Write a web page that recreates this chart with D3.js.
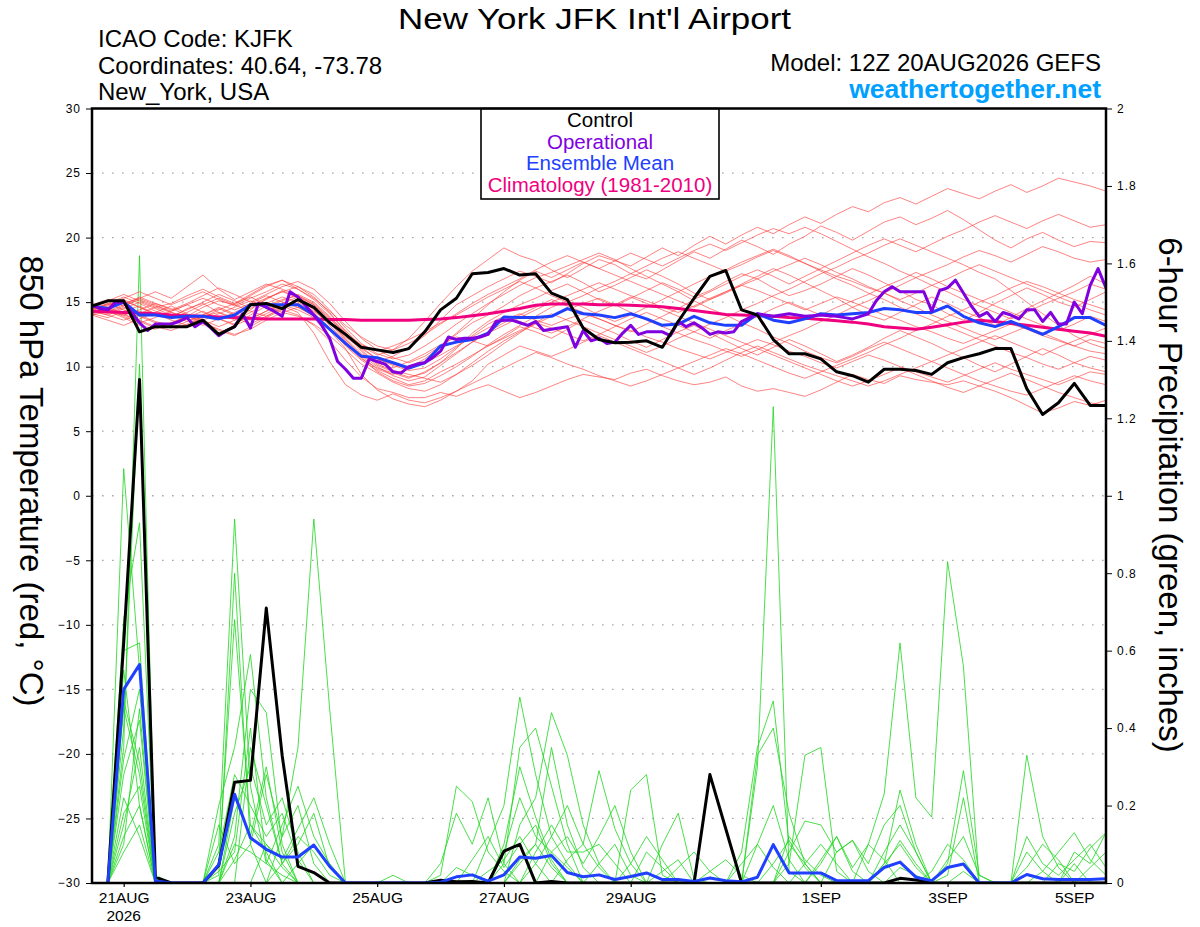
<!DOCTYPE html>
<html>
<head>
<meta charset="utf-8">
<script src="https://cdn.jsdelivr.net/npm/d3@7"></script>
<style>
html,body{margin:0;padding:0;background:#fff;}
svg{display:block;font-family:"Liberation Sans",Arial,Helvetica,sans-serif;}
</style>
</head>
<body>
<svg id="chart" width="1200" height="927"></svg>
<script>
// ---------------- DATA ----------------
const runStartUTC = "2026-08-20T12:00:00Z";   // first valid time (6-hourly steps)
const dateTickDays = ["2026-08-21","2026-08-23","2026-08-25","2026-08-27","2026-08-29","2026-09-01","2026-09-03","2026-09-05"];
const dateTickLabels = ["21AUG","23AUG","25AUG","27AUG","29AUG","1SEP","3SEP","5SEP"];
const yearLabel = "2026";
const tempTickValues = [-30,-25,-20,-15,-10,-5,0,5,10,15,20,25,30];
const precipTickValues = [0,0.2,0.4,0.6,0.8,1,1.2,1.4,1.6,1.8,2];
const legendLabels = ["Control","Operational","Ensemble Mean","Climatology (1981-2010)"];

// 850 hPa temperature (C), 6-hourly, 65 steps
const controlTemp = [14.7, 15.1,15.1,12.7,13.1, 13.1,13.1,13.6,12.5, 13.1,14.8,14.9,14.5, 15.2,14.6,13.4,12.5,
  11.5,11.3,11.1,11.4, 12.7,14.4,15.3,17.2, 17.3,17.6,17.1,17.2, 15.7,15.2,13.0,12.1,
  11.85,11.9,12.0,11.5, 13.5,15.3,17.0,17.45, 14.4,14.0,12.1,11.0, 11.0,10.6,9.6,9.3,
  8.8,9.8,9.8,9.7, 9.4,10.3,10.7,11.0, 11.4,11.4,8.3,6.3, 7.2,8.7,7.0,7.0];
const meanTemp = [14.7, 14.5,15.0,14.0,14.0, 13.8,13.9,13.9,13.7, 14.0,14.8,14.8,14.8, 14.8,14.0,12.9,11.8,
  10.8,10.7,10.3,9.9, 10.3,11.6,11.9,12.1, 12.6,13.85,13.8,13.8, 13.9,14.5,14.1,14.0,
  13.8,14.1,13.7,13.2, 13.3,13.9,13.4,13.2, 13.2,14.1,13.6,13.4, 13.7,14.1,14.0,14.1,
  14.2,14.5,14.4,14.2, 14.2,14.7,13.9,13.4, 13.1,13.5,13.0,12.5, 13.1,13.8,13.8,13.2];
const climoTemp = [14.3, 14.25,14.2,14.15,14.1, 14.0,13.95,13.9,13.85, 13.8,13.75,13.7,13.7, 13.7,13.7,13.65,13.65,
  13.6,13.6,13.6,13.6, 13.65,13.7,13.8,13.95, 14.1,14.3,14.5,14.75, 14.85,14.85,14.85,14.8,
  14.8,14.75,14.7,14.65, 14.5,14.35,14.2,14.05, 14.0,13.95,13.9,13.8, 13.75,13.65,13.55,13.45,
  13.3,13.1,13.0,12.9, 13.05,13.25,13.45,13.6, 13.5,13.35,13.2,13.05, 12.9,12.75,12.6,12.35];
// operational run is 3-hourly (129 values)
const operationalTemp = [14.8,14.5, 14.4,15.0, 15.0,14.2, 13.4,12.8, 13.3,13.3, 13.3,13.5, 13.8,13.1, 13.5,13.0,
  12.4,12.8, 13.1,14.1, 13.0,14.9, 14.6,14.3, 13.9,15.8, 15.4,14.7, 14.0,13.2, 12.2,10.4,
  9.8,9.1, 9.1,10.6, 10.4,10.2, 9.6,9.5, 10.0,10.2, 10.3,10.7, 11.2,12.3, 12.1,12.2,
  12.2,12.3, 12.5,13.5, 13.6,13.6, 13.4,13.2, 13.5,12.8, 12.9,13.0, 13.1,11.5, 12.8,12.0,
  12.2,11.8, 11.9,12.6, 13.2,12.5, 12.7,12.7, 12.7,12.4, 13.5,13.1, 13.4,13.0, 12.5,12.7,
  12.6,12.7, 13.5,13.8, 14.1,14.0, 13.9,14.0, 14.1,14.0, 13.9,13.95, 14.0,13.95, 13.9,13.8,
  13.7,13.9, 14.1,15.1, 15.8,16.2, 15.8,15.8, 15.8,15.8, 14.3,15.9, 16.1,16.7, 15.7,14.7,
  13.9,14.2, 13.5,14.2, 14.0,13.7, 14.4,14.4, 13.5,14.2, 13.3,13.3, 15.0,14.1, 16.3,17.6, 16.1];

// ensemble members, 850 hPa temperature, 6-hourly
const memberTemp01 = [14.5, 14.8,15.2,14.6,14.0, 13.8,14.5,14.9,14.2, 13.6,14.4,15.3,15.8, 15.4,14.6,13.5,12.2, 11.0,10.4,10.8,11.5, 12.4,13.6,14.8,15.5, 16.2,16.8,17.4,17.0, 16.5,17.2,18.0,18.6, 18.2,17.8,18.5,19.2, 18.6,19.4,20.1,19.5, 20.2,20.8,20.3,21.0, 21.6,21.1,21.8,22.4, 22.0,22.7,23.1,22.6, 23.2,23.8,23.4,23.0, 23.6,24.1,23.5,24.0, 24.6,24.3,24.0,23.6];
const memberTemp02 = [14.2, 14.5,14.9,15.3,14.8, 14.2,13.9,14.6,15.1, 14.8,15.5,16.2,16.7, 16.0,15.2,14.1,12.8, 11.6,10.9,11.3,12.2, 13.5,14.9,16.2,17.4, 18.3,19.2,18.6,18.2, 17.5,16.9,17.6,18.3, 17.9,17.2,16.8,17.5, 18.2,18.9,18.4,19.1, 19.8,19.3,18.7,19.5, 20.1,20.9,20.4,19.8, 20.5,21.2,21.6,21.0, 21.5,22.1,21.4,20.6, 19.8,19.2,19.9,20.4, 19.8,19.3,19.7,19.6];
const memberTemp03 = [14.0, 14.3,13.8,13.2,12.9, 13.4,13.9,13.5,12.8, 12.4,13.1,13.8,14.4, 14.0,13.2,12.0,10.5, 9.2,8.3,8.0,7.6, 7.6,8.0,7.7,8.2, 8.6,8.1,7.6,8.0, 8.5,9.0,9.4,9.2, 9.0,9.5,9.8,9.3, 8.9,8.6,8.8,9.2, 8.5,8.1,8.3,8.0, 7.7,8.2,8.8,9.4, 9.0,8.7,9.3,9.0, 8.8,8.6,8.9,8.5, 8.1,7.6,7.0,6.4, 6.8,7.3,7.0,7.4];
const memberTemp04 = [14.4, 14.1,14.6,14.0,13.5, 13.2,13.8,14.3,13.7, 13.3,14.0,14.7,15.2, 15.5,14.9,13.8,12.5, 11.2,10.1,9.6,9.2, 9.5,10.3,11.4,12.6, 13.5,14.2,14.8,15.3, 15.9,16.4,15.8,15.2, 14.7,15.3,15.9,16.5, 16.0,15.4,15.9,16.6, 17.2,16.8,16.1,15.5, 15.9,16.4,17.0,17.6, 17.1,16.5,15.9,15.2, 14.8,14.1,13.6,14.2, 14.9,15.5,16.1,15.6, 15.0,14.6,15.2,15.8];
const memberTemp05 = [14.6, 14.2,14.0,13.6,13.1, 12.8,13.3,13.9,14.2, 13.8,13.3,13.9,14.6, 14.9,14.2,13.0,11.6, 10.5,9.7,9.1,8.6, 8.9,9.6,10.2,10.9, 11.6,12.3,13.1,12.7, 12.2,12.9,13.6,13.1, 12.6,12.0,11.5,12.1, 12.7,13.2,12.6,12.0, 11.4,10.9,11.5,12.1, 11.6,11.0,10.4,10.9, 11.5,12.2,12.8,12.3, 11.8,11.2,10.7,10.1, 9.6,10.2,10.8,11.4, 10.9,10.3,10.8,10.5];
const memberTemp06 = [14.3, 14.9,15.4,14.9,14.3, 13.9,14.4,15.0,15.6, 15.1,14.5,15.2,15.9, 15.3,14.4,13.2,11.9, 10.8,9.8,9.4,9.9, 10.6,11.5,12.5,13.4, 14.0,14.7,15.5,16.1, 16.6,17.1,16.5,15.8, 16.3,16.9,17.5,17.0, 16.4,15.7,15.2,15.8, 16.4,17.0,17.6,17.1, 16.5,15.9,15.3,14.6, 14.0,13.6,14.2,14.8, 15.4,14.9,14.3,13.8, 13.2,13.8,14.5,15.1, 15.7,16.3,17.0,16.4];
const memberTemp07 = [14.1, 13.8,14.3,14.7,14.1, 13.6,13.2,13.8,14.4, 14.9,15.4,14.8,14.2, 13.9,13.3,12.4,11.3, 10.2,9.5,8.8,8.3, 8.1,8.6,9.4,10.3, 11.2,12.0,12.7,13.3, 13.9,14.4,14.9,15.3, 14.8,14.2,13.6,13.1, 12.6,12.1,11.7,11.2, 10.8,11.3,11.9,12.4, 12.9,13.5,14.0,14.6, 15.1,15.7,16.3,16.9, 17.4,17.9,18.5,19.0, 18.6,18.1,18.7,19.3, 18.9,18.4,18.1,18.3];
const memberTemp08 = [14.7, 15.1,15.6,15.1,14.6, 14.9,15.5,16.0,15.4, 14.9,15.6,16.3,16.7, 16.2,15.6,14.4,13.0, 11.8,11.0,10.6,10.9, 11.6,12.4,13.3,14.1, 14.9,15.6,16.3,16.9, 17.3,17.8,18.3,18.8, 18.3,17.6,17.0,16.4, 15.8,15.1,14.5,14.0, 13.4,12.9,12.3,11.8, 11.2,10.7,10.3,10.8, 11.4,11.9,11.4,10.9, 10.4,9.9,9.4,8.9, 8.5,8.1,7.8,8.3, 8.8,9.3,8.9,8.6];
const memberTemp09 = [14.0, 13.6,13.2,13.7,14.2, 14.7,14.1,13.6,13.1, 13.6,14.2,14.9,15.4, 15.0,14.3,13.4,12.0, 10.7,9.6,8.9,8.5, 8.7,9.3,10.0,10.8, 11.7,12.5,13.2,13.9, 14.6,15.1,14.6,14.0, 13.5,14.0,14.6,15.2, 15.8,16.4,17.0,17.5, 18.1,18.6,19.1,18.6, 18.0,17.4,16.8,16.3, 15.7,15.2,14.6,14.1, 13.6,13.1,12.6,12.1, 11.6,11.1,10.7,10.2, 9.8,10.3,9.9,9.6];
const memberTemp10 = [14.5, 14.9,14.4,13.9,13.4, 13.0,13.5,14.0,14.6, 14.1,13.7,14.3,14.9, 15.4,14.8,13.6,12.1, 10.9,10.0,9.3,8.9, 9.2,10.1,11.0,11.9, 12.7,13.4,14.0,14.6, 15.2,14.7,14.2,13.7, 13.2,12.7,13.3,13.9, 14.5,15.2,15.8,16.4, 17.0,17.5,17.0,16.4, 17.0,17.6,18.2,18.8, 19.4,19.9,19.4,18.9, 19.5,20.1,20.6,21.2, 21.7,21.2,20.7,21.3, 21.8,21.3,20.8,21.0];
const memberTemp11 = [14.2, 14.6,14.1,13.5,13.0, 13.4,13.9,13.4,12.9, 12.5,12.9,13.6,14.2, 14.6,13.9,12.8,11.4, 9.4,8.2,7.5,7.1, 6.9,7.4,8.1,8.9, 10.2,10.9,11.6,11.2, 10.8,11.3,11.9,12.4, 11.9,11.4,10.9,10.4, 9.9,9.4,9.9,10.5, 11.1,11.6,11.1,10.6, 10.1,9.7,9.3,8.9, 8.5,8.9,9.4,9.9, 10.4,10.9,11.4,11.9, 12.4,11.9,11.4,10.9, 11.5,12.0,12.5,13.0];
const memberTemp12 = [14.8, 15.2,14.7,15.3,15.8, 15.3,16.2,17.1,16.0, 15.2,15.8,16.4,16.0, 15.5,14.8,13.7,12.6, 11.7,11.2,11.6,12.1, 12.7,13.4,14.0,14.7, 15.4,16.0,16.6,16.1, 15.5,15.0,15.5,16.1, 16.6,17.2,17.8,18.4, 18.9,18.4,17.9,17.4, 17.9,18.5,19.0,18.5, 18.0,17.5,17.0,16.6, 16.1,15.7,15.2,15.7, 16.3,16.8,17.4,17.9, 17.4,16.9,16.4,15.9, 15.4,14.9,14.4,14.0];
const memberTemp13 = [14.3, 14.0,13.6,14.1,14.6, 14.2,13.7,13.2,13.7, 14.2,14.8,15.3,15.8, 16.2,15.4,14.2,12.7, 11.3,10.2,9.7,9.4, 9.1,8.8,9.4,10.1, 10.9,11.8,12.6,13.4, 14.1,13.6,13.1,12.6, 12.1,11.6,11.1,11.6, 12.2,12.7,13.3,13.8, 14.4,14.9,15.5,16.0, 16.6,17.2,17.7,18.3, 18.8,19.4,19.9,19.4, 18.9,18.4,17.9,17.3, 16.8,15.9,15.0,14.1, 13.2,12.4,11.8,11.4];
const memberTemp14 = [14.4, 14.7,15.1,14.6,14.1, 13.7,14.2,14.8,15.3, 14.8,14.3,13.9,14.5, 15.1,14.5,13.5,12.3, 11.4,10.6,10.1,9.7, 9.9,10.6,11.5,12.4, 13.3,13.9,13.5,13.0, 12.6,13.1,13.7,14.3, 14.8,15.4,14.9,14.4, 13.9,13.4,12.9,12.4, 11.9,11.4,10.9,10.4, 9.9,9.4,8.9,8.5, 8.9,9.4,9.9,9.4, 8.9,8.4,8.0,8.5, 9.0,9.5,9.0,8.5, 8.0,7.6,7.2,7.0];
const memberTemp15 = [14.6, 14.3,14.8,15.4,14.9, 14.4,14.9,15.5,16.1, 15.6,15.0,15.6,16.2, 16.6,16.0,14.9,13.5, 12.2,11.3,10.7,10.3, 10.8,11.6,12.6,13.7, 14.8,15.8,16.7,17.4, 16.9,17.5,18.1,17.6, 18.2,18.8,18.3,17.8, 18.4,19.0,19.5,19.0, 19.6,20.2,20.7,20.3, 20.8,20.3,19.7,19.1, 18.5,18.0,17.4,16.9, 16.3,15.8,15.2,14.7, 14.2,13.7,14.2,14.8, 15.3,15.8,16.4,16.0];
const memberTemp16 = [14.1, 14.4,13.9,13.4,13.8, 14.3,14.8,14.2,13.7, 13.2,13.7,14.3,14.8, 14.4,13.8,12.9,11.8, 10.9,10.3,9.9,10.4, 11.0,11.7,12.3,12.0, 11.6,12.2,12.8,13.4, 13.0,12.5,12.0,12.5, 13.1,13.7,14.2,13.7, 13.2,12.7,12.2,12.8, 13.3,13.9,14.5,15.0, 14.5,14.0,14.6,15.1, 15.6,16.2,16.7,17.3, 16.8,16.2,15.7,15.2, 14.7,14.2,13.7,13.2, 12.8,13.3,13.9,13.5];
const memberTemp17 = [14.3, 14.0,14.5,15.0,14.5, 14.0,13.5,14.0,14.5, 14.0,13.6,14.1,14.7, 14.2,12.6,10.4,8.6, 7.8,7.4,7.9,7.4, 7.2,7.6,8.1,8.7, 9.3,9.9,10.5,11.1, 10.7,10.2,9.8,9.3, 8.9,8.5,8.9,9.4, 9.9,10.4,10.9,11.4, 11.0,10.5,10.0,9.5, 9.1,9.6,10.1,10.6, 11.1,11.7,12.2,12.8, 13.3,13.9,14.4,15.0, 15.5,16.1,16.6,16.2, 15.7,15.2,14.8,14.4];
const memberTemp18 = [14.5, 14.8,15.3,15.8,15.3, 14.8,15.3,15.8,15.2, 14.7,15.3,15.8,16.4, 16.0,15.3,14.3,13.2, 12.3,11.6,11.3,11.8, 12.5,13.3,14.1,14.9, 15.6,16.2,16.8,17.5, 18.1,18.6,18.1,17.6, 17.1,16.6,16.1,15.6, 15.1,14.6,15.2,15.7, 16.3,16.8,17.4,17.9, 18.4,17.9,17.3,16.8, 16.2,15.7,15.1,14.6, 14.0,13.5,13.0,12.5, 12.1,12.6,13.1,12.6, 12.1,11.6,11.2,11.0];
const memberTemp19 = [14.2, 14.5,14.0,14.4,14.9, 14.5,14.0,13.6,14.1, 14.6,15.1,14.6,15.1, 15.6,15.0,13.9,12.6, 11.5,10.6,10.2,9.8, 10.3,10.9,11.6,12.3, 13.0,13.6,14.1,13.6, 13.2,13.7,14.1,13.7, 13.2,12.8,12.3,11.9, 11.4,11.0,10.6,11.1, 11.6,12.1,11.7,11.2, 10.8,10.3,9.9,10.4, 10.9,10.5,10.0,9.6, 9.2,8.8,9.3,9.8, 10.3,9.8,9.4,9.0, 8.6,9.1,9.6,9.4];
const memberTemp20 = [14.6, 14.2,14.7,15.2,14.7, 14.3,14.8,15.3,14.8, 14.4,14.9,15.5,15.0, 14.6,14.0,12.9,11.7, 10.6,9.9,9.5,9.1, 9.6,10.3,11.1,11.9, 12.6,13.2,13.8,14.4, 15.0,15.5,16.0,16.5, 16.0,15.5,15.1,14.6, 14.2,14.7,15.3,15.8, 16.3,15.9,15.4,14.9, 14.4,14.9,15.4,15.0, 14.5,14.0,13.6,13.1, 12.7,12.2,11.8,12.3, 12.8,13.3,12.9,12.4, 12.0,11.6,12.1,11.8];

// 6-hour precipitation (inches); step 0 has no accumulation
const controlPrecip = [null, 0,0.62,1.30,0.015, 0,0,0,0.045, 0.26,0.265,0.71,0.33, 0.043,0.027,0,0,
  0,0,0,0, 0,0.007,0.003,0.004, 0,0.082,0.10,0, 0.004,0,0,0,
  0,0,0,0, 0,0,0.28,0.14, 0,0,0,0, 0,0,0,0,
  0,0,0.012,0.008, 0,0,0,0, 0,0,0,0, 0,0,0,0];
const meanPrecip = [null, 0,0.50,0.564,0.005, 0,0,0,0.047, 0.229,0.117,0.087,0.067, 0.067,0.098,0.043,0,
  0,0,0,0, 0,0.002,0.016,0.021, 0.005,0.021,0.067,0.064, 0.071,0.027,0.016,0.021,
  0.009,0.017,0.026,0.009, 0.009,0.004,0.013,0.006, 0.003,0.015,0.099,0.026, 0.026,0.026,0.006,0.006,
  0.006,0.04,0.054,0.015, 0.006,0.04,0.049,0, 0,0,0.022,0.011, 0.009,0.009,0.009,0.011];
// ensemble member precipitation as [step, inches]; steps not listed were dry (0)
const memberPrecip01 = [[2,.35],[3,1.62],[8,.10],[9,.94],[10,.25],[11,.05],[12,.02],[22,.02],[23,.25],[24,.21],[25,.08],[26,.03],[42,.30],[43,1.23],[44,.03],[50,.05],[51,.10],[52,.04],[60,.03],[61,.08],[62,.13],[63,.06],[64,.02]];
const memberPrecip02 = [[2,1.07],[3,.55],[8,.05],[9,.68],[10,.15],[11,.08],[19,.02],[22,.05],[23,.18],[24,.10],[25,.22],[26,.05],[41,.08],[42,.35],[43,.47],[44,.10],[45,.05],[49,.10],[50,.23],[51,.62],[52,.22],[53,.17],[54,.83],[55,.56]];
const memberPrecip03 = [[2,.40],[3,1.34],[4,.02],[8,.20],[9,.35],[10,.59],[11,.22],[12,.05],[25,.10],[26,.20],[27,.48],[28,.28],[29,.12],[30,.05],[42,.33],[43,.40],[44,.18],[45,.05],[50,.05],[51,.24],[52,.10],[54,.05],[55,.29],[56,.02]];
const memberPrecip04 = [[2,.68],[3,.93],[9,.12],[10,.50],[11,.44],[12,.10],[26,.05],[27,.35],[28,.40],[29,.25],[30,.10],[44,.05],[45,.33],[46,.35],[47,.03],[59,.33],[60,.12],[61,.04]];
const memberPrecip05 = [[2,.60],[3,.62],[8,.08],[9,.28],[10,.20],[11,.12],[12,.18],[13,.06],[27,.15],[28,.22],[29,.44],[30,.33],[31,.15],[32,.05],[44,.08],[45,.16],[46,.15],[47,.08],[48,.11],[49,.03],[54,.02],[55,.22]];
const memberPrecip06 = [[2,.47],[3,.31],[12,.12],[13,.35],[14,.94],[15,.45],[28,.05],[29,.12],[30,.20],[31,.10],[32,.29],[33,.14],[34,.05],[46,.05],[47,.12],[48,.04],[49,.10],[50,.06],[62,.08],[63,.05],[64,.13]];
const memberPrecip07 = [[2,.45],[3,.28],[9,.18],[10,.30],[11,.15],[12,.22],[13,.08],[26,.08],[27,.22],[28,.12],[29,.08],[30,.04],[34,.24],[35,.28],[36,.02],[42,.10],[43,.20],[44,.06],[47,.08],[48,.11],[49,.05],[50,.15],[51,.20],[52,.08]];
const memberPrecip08 = [[2,.28],[3,.42],[8,.15],[9,.05],[10,.10],[11,.28],[12,.12],[13,.20],[14,.05],[24,.06],[25,.12],[26,.04],[27,.10],[28,.15],[29,.05],[36,.10],[37,.18],[38,.01],[50,.04],[51,.11],[52,.05],[59,.12],[60,.05],[61,.02],[62,.06],[63,.10],[64,.04]];
const memberPrecip09 = [[2,.22],[3,.12],[9,.10],[10,.08],[11,.05],[12,.15],[13,.25],[14,.12],[15,.05],[23,.04],[24,.02],[26,.10],[27,.30],[28,.17],[29,.06],[32,.05],[33,.10],[34,.02],[39,.03],[40,.06],[41,.02],[53,.03],[54,.10],[55,.06],[61,.05],[62,.03],[63,.09],[64,.13]];
const memberPrecip10 = [[1,.01],[2,.55],[3,.20],[10,.35],[11,.20],[12,.05],[13,.10],[14,.18],[15,.04],[27,.05],[28,.10],[29,.35],[30,.15],[31,.04],[34,.05],[35,.12],[36,.06],[44,.12],[45,.06],[46,.02],[59,.04],[60,.10],[61,.06]];
const memberPrecip11 = [[2,.15],[3,.35],[9,.22],[10,.12],[11,.30],[12,.08],[28,.08],[29,.15],[30,.08],[31,.08],[32,.10],[33,.05],[43,.05],[44,.11],[45,.04],[50,.08],[51,.15],[52,.08]];
const memberPrecip12 = [[2,.32],[3,.50],[4,.01],[11,.10],[12,.06],[13,.14],[14,.22],[15,.10],[25,.03],[26,.06],[27,.12],[28,.05],[37,.04],[38,.08],[39,.03],[46,.06],[47,.12],[48,.03],[54,.06],[55,.12],[56,.02]];
const memberPrecip13 = [[2,.12],[3,.20],[8,.03],[9,.08],[10,.40],[11,.06],[29,.08],[30,.12],[31,.05],[32,.12],[33,.20],[34,.08],[41,.05],[42,.10],[43,.04],[63,.04],[64,.08]];
const memberPrecip14 = [[2,.08],[3,.15],[12,.05],[13,.12],[14,.08],[15,.02],[30,.06],[31,.10],[32,.04],[35,.08],[36,.04],[45,.05],[46,.10],[47,.05],[59,.08],[60,.03]];
const memberPrecip15 = [[2,.18],[3,.25],[9,.06],[10,.15],[11,.10],[12,.04],[27,.06],[28,.10],[29,.04],[51,.04],[52,.02],[62,.05]];
const memberPrecip16 = [[2,.10],[3,.45],[8,.02],[9,.80],[10,.10],[13,.05],[14,.10],[15,.04],[36,.03],[37,.06],[55,.03]];

const memberTemps = [memberTemp01,memberTemp02,memberTemp03,memberTemp04,memberTemp05,memberTemp06,memberTemp07,memberTemp08,memberTemp09,memberTemp10,
  memberTemp11,memberTemp12,memberTemp13,memberTemp14,memberTemp15,memberTemp16,memberTemp17,memberTemp18,memberTemp19,memberTemp20];
const memberPrecips = [memberPrecip01,memberPrecip02,memberPrecip03,memberPrecip04,memberPrecip05,memberPrecip06,memberPrecip07,memberPrecip08,
  memberPrecip09,memberPrecip10,memberPrecip11,memberPrecip12,memberPrecip13,memberPrecip14,memberPrecip15,memberPrecip16];

// ---------------- CHART ----------------
const COLORS = {control:"#000000", oper:"#8000e0", mean:"#2040ff", climo:"#f0007f",
  member:"#ff3a3a", precip:"#1fd81f", grid:"#a8a8a8", brand:"#00a0ff"};
const plot = {left:92, right:1106, top:108.5, bottom:883};

const svg = d3.select("#chart");
const H6 = 6*3600*1000, H3 = 3*3600*1000;
const t0 = Date.parse(runStartUTC);
const times6 = controlTemp.map((_, i) => new Date(t0 + i*H6));
const times3 = operationalTemp.map((_, i) => new Date(t0 + i*H3));

const x = d3.scaleUtc().domain([times6[0], times6[times6.length-1]]).range([plot.left, plot.right]);
const yT = d3.scaleLinear().domain([-30,30]).range([plot.bottom, plot.top]);
const yP = d3.scaleLinear().domain([0,2]).range([plot.bottom, plot.top]);

// gridlines
svg.append("g").selectAll("line").data(tempTickValues.slice(1,-1)).join("line")
  .attr("x1", plot.left).attr("x2", plot.right)
  .attr("y1", d => yT(d)).attr("y2", d => yT(d))
  .attr("stroke", COLORS.grid).attr("stroke-width", 1.3).attr("stroke-dasharray", "1.6,8.4");

svg.append("defs").append("clipPath").attr("id","pclip").append("rect")
  .attr("x", plot.left).attr("y", plot.top).attr("width", plot.right-plot.left).attr("height", plot.bottom-plot.top);
const g = svg.append("g").attr("clip-path","url(#pclip)");

const lineT6 = d3.line().x((d,i)=>x(times6[i])).y(d=>yT(d));
const lineT3 = d3.line().x((d,i)=>x(times3[i])).y(d=>yT(d));
const lineP = d3.line().defined(d=>d!=null).x((d,i)=>x(times6[i])).y(d=>yP(d));

// expand sparse member precip into 6-hourly series (step 0 = no accumulation)
const precipSeries = memberPrecips.map(pairs => {
  const m = new Map(pairs.map(p => [p[0], p[1]]));
  return times6.map((_, i) => i === 0 ? null : (m.get(i) || 0));
});

g.append("g").selectAll("path").data(precipSeries).join("path")
  .attr("d", lineP).attr("fill","none").attr("stroke", COLORS.precip)
  .attr("stroke-width", 0.9).attr("stroke-opacity", 0.9);

g.append("g").selectAll("path").data(memberTemps).join("path")
  .attr("d", lineT6).attr("fill","none").attr("stroke", COLORS.member)
  .attr("stroke-width", 0.85).attr("stroke-opacity", 0.75);

g.append("path").datum(climoTemp).attr("d", lineT6).attr("fill","none")
  .attr("stroke", COLORS.climo).attr("stroke-width", 3);
g.append("path").datum(controlPrecip).attr("d", lineP).attr("fill","none")
  .attr("stroke", COLORS.control).attr("stroke-width", 3).attr("stroke-linejoin","round");
g.append("path").datum(meanPrecip).attr("d", lineP).attr("fill","none")
  .attr("stroke", COLORS.mean).attr("stroke-width", 3).attr("stroke-linejoin","round");
g.append("path").datum(meanTemp).attr("d", lineT6).attr("fill","none")
  .attr("stroke", COLORS.mean).attr("stroke-width", 3).attr("stroke-linejoin","round");
g.append("path").datum(operationalTemp).attr("d", lineT3).attr("fill","none")
  .attr("stroke", COLORS.oper).attr("stroke-width", 3).attr("stroke-linejoin","round");
g.append("path").datum(controlTemp).attr("d", lineT6).attr("fill","none")
  .attr("stroke", COLORS.control).attr("stroke-width", 3).attr("stroke-linejoin","round");

// legend box
const lg = svg.append("g");
lg.append("rect").attr("x",481).attr("y",plot.top).attr("width",238).attr("height",90.5)
  .attr("fill","#fff").attr("stroke","#000").attr("stroke-width",1.6);
const legendColors = [COLORS.control, COLORS.oper, COLORS.mean, COLORS.climo];
lg.selectAll("text").data(legendLabels).join("text")
  .attr("x", 600).attr("y", (d,i) => 127 + i*21.5)
  .attr("text-anchor","middle").attr("font-size", 20.5)
  .attr("fill", (d,i) => legendColors[i]).text(d => d);

// axes
const axL = svg.append("g").attr("transform",`translate(${plot.left},0)`)
  .call(d3.axisLeft(yT).tickValues(tempTickValues).tickSize(6).tickPadding(5).tickFormat(d3.format("d")));
const axR = svg.append("g").attr("transform",`translate(${plot.right},0)`)
  .call(d3.axisRight(yP).tickValues(precipTickValues).tickSize(6).tickPadding(5).tickFormat(d => String(d)));
[axL, axR].forEach(a => {
  a.select(".domain").remove();
  a.selectAll("text").attr("font-size", 12).attr("letter-spacing", 1).attr("fill","#000")
    .attr("font-family", '"Liberation Sans",Arial,sans-serif');
  a.selectAll("line").attr("stroke","#000").attr("stroke-width",1);
});

const tickDates = dateTickDays.map(s => new Date(s + "T00:00:00Z"));
const axB = svg.append("g").attr("transform",`translate(0,${plot.bottom})`)
  .call(d3.axisBottom(x).tickValues(tickDates).tickSize(4).tickPadding(6).tickFormat((d,i) => dateTickLabels[i]));
axB.select(".domain").remove();
axB.selectAll("line").attr("stroke","#000").attr("stroke-width",1.2);
axB.selectAll("text").attr("font-size", 15.5).attr("fill","#000")
  .attr("font-family", '"Liberation Sans",Arial,sans-serif').attr("dy", null).attr("y", 20);
svg.append("text").attr("x", x(tickDates[0])).attr("y", 920.5).attr("text-anchor","middle")
  .attr("font-size", 15.5).text(yearLabel);

// frame
svg.append("rect").attr("x",plot.left).attr("y",plot.top).attr("width",plot.right-plot.left)
  .attr("height",plot.bottom-plot.top).attr("fill","none").attr("stroke","#000").attr("stroke-width",2.5);

// titles
svg.append("text").attr("x",398).attr("y",28.5).attr("font-size",29)
  .attr("textLength",393).attr("lengthAdjust","spacingAndGlyphs")
  .text("New York JFK Int'l Airport");
const info = ["ICAO Code: KJFK","Coordinates: 40.64, -73.78","New_York, USA"];
svg.append("g").selectAll("text").data(info).join("text")
  .attr("x",98).attr("y",(d,i)=>47+i*26.5).attr("font-size",24).text(d=>d);
svg.append("text").attr("x",1101).attr("y",71).attr("text-anchor","end").attr("font-size",24)
  .text("Model: 12Z 20AUG2026 GEFS");
svg.append("text").attr("x",1101).attr("y",97.5).attr("text-anchor","end").attr("font-size",26.5)
  .attr("font-weight","bold").attr("fill",COLORS.brand).text("weathertogether.net");

// axis titles
svg.append("text").attr("transform","translate(31,481) rotate(90)").attr("text-anchor","middle")
  .attr("dominant-baseline","central").attr("font-size",33).text("850 hPa Temperature (red, °C)");
svg.append("text").attr("transform","translate(1170,495) rotate(90)").attr("text-anchor","middle")
  .attr("dominant-baseline","central").attr("font-size",33).text("6-hour Precipitation (green, inches)");
</script>
</body>
</html>
